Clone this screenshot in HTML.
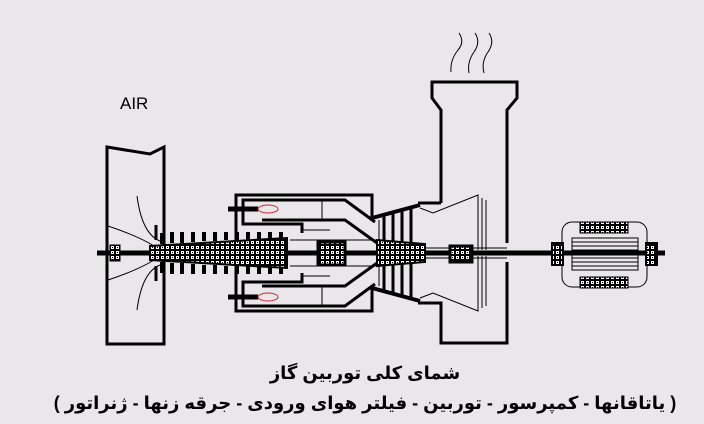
<!DOCTYPE html>
<html><head><meta charset="utf-8"><style>
html,body{margin:0;padding:0;background:#e9e7ea;}
svg{display:block}
.t{font-family:"Liberation Sans","DejaVu Sans",sans-serif;font-weight:bold;font-size:18px;fill:#000}
</style></head><body>
<svg width="704" height="424" viewBox="0 0 704 424" xmlns="http://www.w3.org/2000/svg">
<defs>
<pattern id="h" width="5" height="5" patternUnits="userSpaceOnUse">
<rect width="5" height="5" fill="#000"/><rect x="1" y="1" width="3" height="3" fill="#fff"/><rect x="2" y="2" width="1" height="1" fill="#000"/>
</pattern>
<g id="half" fill="none" stroke="#000">
  <path d="M236 253 V195 H372 V218" stroke-width="3"/>
  <path d="M302 233 V224 H243 V200 H345 L375 222" stroke-width="3"/>
  <path d="M262 220 H345 L377 243" stroke-width="3"/>
  <line x1="322" y1="200" x2="322" y2="220" stroke-width="1"/>
  <line x1="302" y1="230" x2="330" y2="230" stroke-width="1"/>
  <line x1="290" y1="240" x2="380" y2="240" stroke-width="1"/>
  <line x1="228" y1="209" x2="258" y2="209" stroke-width="5"/>
  <ellipse cx="268" cy="209" rx="10" ry="4" stroke="#d02030" stroke-width="1"/>
  <path d="M372 218 L420 205" stroke-width="4"/>
  <g stroke-width="4">
    <line x1="162" y1="233" x2="162" y2="244"/><line x1="172" y1="232" x2="172" y2="243"/>
    <line x1="182" y1="232" x2="182" y2="243"/><line x1="193" y1="232" x2="193" y2="242"/>
    <line x1="204" y1="232" x2="204" y2="241"/><line x1="215" y1="232" x2="215" y2="241"/>
    <line x1="226" y1="232" x2="226" y2="240"/><line x1="237" y1="232" x2="237" y2="240"/>
    <line x1="248" y1="232" x2="248" y2="240"/><line x1="259" y1="232" x2="259" y2="239"/>
    <line x1="270" y1="232" x2="270" y2="239"/><line x1="281" y1="232" x2="281" y2="239"/>
  </g>
  <line x1="156" y1="240" x2="156" y2="225" stroke-width="3"/>
  <g stroke-width="3">
    <line x1="384" y1="215" x2="384" y2="242"/><line x1="393" y1="213" x2="393" y2="242"/>
    <line x1="402" y1="211" x2="402" y2="242"/><line x1="411" y1="209" x2="411" y2="243"/>
  </g>
  <line x1="379" y1="220" x2="379" y2="240" stroke-width="1"/>
  <path d="M420 208 L433 213 L478 195 V250" stroke-width="1"/>
  <path d="M482 198 V250 M486 200 V250" stroke-width="1"/>
  <line x1="425" y1="248" x2="507" y2="248" stroke-width="1"/>
  <path d="M137 196 Q142 234 160 241" stroke-width="1"/>
  <path d="M108 226 Q138 236 154 246" stroke-width="1"/>
</g>
</defs>
<rect width="704" height="424" fill="#e9e7ea"/>
<text x="120" y="109" font-family="Liberation Sans,sans-serif" font-size="17" fill="#000">AIR</text>
<g fill="none" stroke="#000" stroke-width="1">
<path d="M459 33 Q465 42 458 50 Q450 60 451 72"/>
<path d="M475 33 Q481 42 474 52 Q467 62 469 73"/>
<path d="M489 33 Q495 42 488 52 Q481 62 484 73"/>
</g>
<path d="M441 203 V110 L432 98 V82 H517 V98 L507 110 V243" fill="none" stroke="#000" stroke-width="3"/>
<path d="M507 262 V343 H441 V303 H418" fill="none" stroke="#000" stroke-width="3"/>
<path d="M441 203 H418" fill="none" stroke="#000" stroke-width="3"/>
<path d="M107 147 L150 154 L164 147 V344 H107 Z" fill="none" stroke="#000" stroke-width="3"/>
<use href="#half"/>
<use href="#half" transform="translate(0,506) scale(1,-1)"/>
<line x1="97" y1="253" x2="665" y2="253" stroke="#000" stroke-width="5"/>
<rect x="110" y="245" width="10" height="16" fill="url(#h)" stroke="#000"/>
<path d="M150 246 L287 238 V268 L150 260 Z" fill="url(#h)" stroke="#000" stroke-width="2"/>
<rect x="318" y="242" width="27" height="23" fill="url(#h)" stroke="#000" stroke-width="3"/>
<path d="M377 240 L425 244 V262 L377 266 Z" fill="url(#h)" stroke="#000" stroke-width="2"/>
<rect x="450" y="246" width="22" height="16" fill="url(#h)" stroke="#000" stroke-width="3"/>
<rect x="562" y="222" width="85" height="65" rx="10" fill="none" stroke="#000" stroke-width="1"/>
<rect x="580" y="222" width="48" height="11" fill="url(#h)" stroke="#000"/>
<rect x="580" y="277" width="48" height="11" fill="url(#h)" stroke="#000"/>
<g stroke="#000" stroke-width="1" fill="none">
<rect x="572" y="238" width="66" height="32"/>
<line x1="572" y1="242" x2="638" y2="242"/><line x1="572" y1="246" x2="638" y2="246"/>
<line x1="572" y1="250" x2="638" y2="250"/><line x1="572" y1="258" x2="638" y2="258"/>
<line x1="572" y1="262" x2="638" y2="262"/><line x1="572" y1="266" x2="638" y2="266"/>
</g>
<rect x="552" y="243" width="11" height="22" fill="url(#h)" stroke="#000" stroke-width="2"/>
<rect x="646" y="243" width="11" height="22" fill="url(#h)" stroke="#000" stroke-width="2"/>
<text class="t" x="365" y="379" text-anchor="middle" direction="rtl">شمای کلی توربین گاز</text>
<text class="t" x="365" y="409" text-anchor="middle" direction="rtl">( یاتاقانها - کمپرسور - توربین - فیلتر هوای ورودی - جرقه زنها - ژنراتور )</text>
</svg>
</body></html>
